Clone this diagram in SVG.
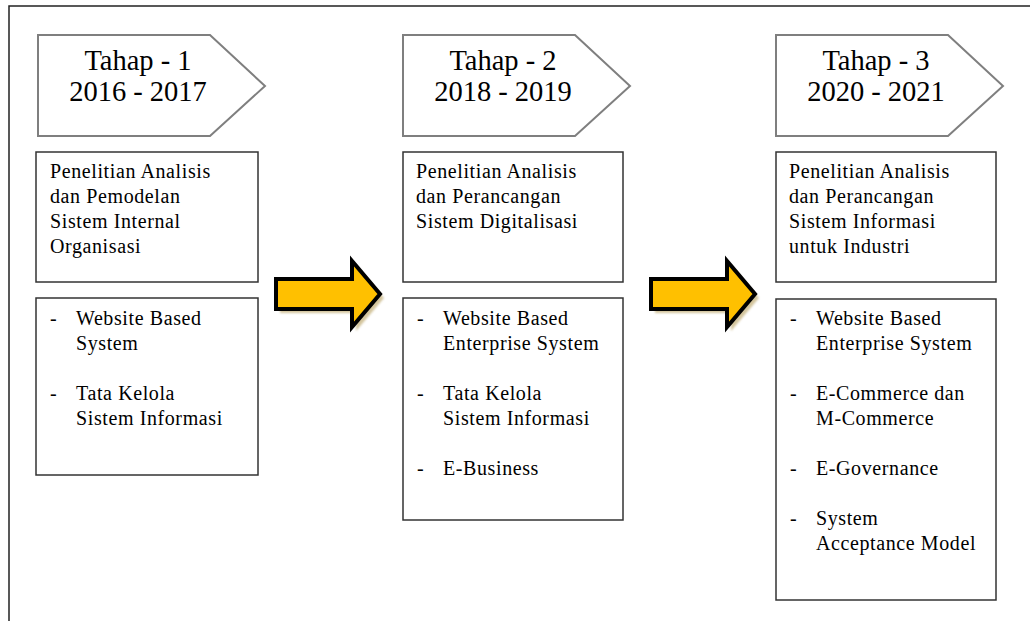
<svg xmlns="http://www.w3.org/2000/svg" width="1030" height="621" viewBox="0 0 1030 621">
  <style>
    .frame { fill: none; stroke: #222; stroke-width: 1.5; }
    .tag { fill: #fff; stroke: #7f7f7f; stroke-width: 2; }
    .tag-text { font-family: "Liberation Serif", "Times New Roman", serif; font-size: 28.5px; fill: #000; text-anchor: middle; }
    .box { fill: #fff; stroke: #333; stroke-width: 1.5; }
    .body { font-family: "Liberation Serif", "Times New Roman", serif; font-size: 20px; letter-spacing: 0.6px; fill: #000; }
    .arrow { fill: #ffc000; stroke: #000; stroke-width: 4; stroke-linejoin: miter; }
    .arrow-shadow { fill: #c8b684; opacity: 0.8; }
  </style>
  <defs>
    <path id="big-arrow" d="M276,279 H352 V261 L380,294 L352,327 V309 H276 Z"/>
    <filter id="soft" x="-10%" y="-10%" width="120%" height="120%">
      <feGaussianBlur stdDeviation="1"/>
    </filter>
  </defs>

  <rect width="1030" height="621" fill="#fff"/>

  <!-- page frame -->
  <path class="frame" d="M9,621 V6 H1030"/>

  <!-- stage 1 -->
  <g id="stage1">
    <path class="tag" d="M38,35 H210 L265,86 L210,136 H38 Z"/>
    <text class="tag-text" x="138" y="70">Tahap - 1</text>
    <text class="tag-text" x="138" y="101">2016 - 2017</text>
  </g>
  <g id="stage1-focus">
    <rect class="box" x="36" y="152" width="222" height="130"/>
    <text class="body" x="50" y="178">Penelitian Analisis</text>
    <text class="body" x="50" y="203">dan Pemodelan</text>
    <text class="body" x="50" y="228">Sistem Internal</text>
    <text class="body" x="50" y="253">Organisasi</text>
  </g>
  <g id="stage1-topics">
    <rect class="box" x="36" y="298" width="222" height="177"/>
    <text class="body" x="50" y="325">-</text>
    <text class="body" x="76" y="325">Website Based</text>
    <text class="body" x="76" y="350">System</text>
    <text class="body" x="50" y="400">-</text>
    <text class="body" x="76" y="400">Tata Kelola</text>
    <text class="body" x="76" y="425">Sistem Informasi</text>
  </g>

  <!-- stage 2 -->
  <g id="stage2">
    <path class="tag" d="M403,35 H575 L630,86 L575,136 H403 Z"/>
    <text class="tag-text" x="503" y="70">Tahap - 2</text>
    <text class="tag-text" x="503" y="101">2018 - 2019</text>
  </g>
  <g id="stage2-focus">
    <rect class="box" x="403" y="152" width="220" height="130"/>
    <text class="body" x="416" y="178">Penelitian Analisis</text>
    <text class="body" x="416" y="203">dan Perancangan</text>
    <text class="body" x="416" y="228">Sistem Digitalisasi</text>
  </g>
  <g id="stage2-topics">
    <rect class="box" x="403" y="298" width="220" height="222"/>
    <text class="body" x="417" y="325">-</text>
    <text class="body" x="443" y="325">Website Based</text>
    <text class="body" x="443" y="350">Enterprise System</text>
    <text class="body" x="417" y="400">-</text>
    <text class="body" x="443" y="400">Tata Kelola</text>
    <text class="body" x="443" y="425">Sistem Informasi</text>
    <text class="body" x="417" y="475">-</text>
    <text class="body" x="443" y="475">E-Business</text>
  </g>

  <!-- stage 3 -->
  <g id="stage3">
    <path class="tag" d="M776,35 H948 L1003,86 L948,136 H776 Z"/>
    <text class="tag-text" x="876" y="70">Tahap - 3</text>
    <text class="tag-text" x="876" y="101">2020 - 2021</text>
  </g>
  <g id="stage3-focus">
    <rect class="box" x="776" y="152" width="220" height="130"/>
    <text class="body" x="789" y="178">Penelitian Analisis</text>
    <text class="body" x="789" y="203">dan Perancangan</text>
    <text class="body" x="789" y="228">Sistem Informasi</text>
    <text class="body" x="789" y="253">untuk Industri</text>
  </g>
  <g id="stage3-topics">
    <rect class="box" x="776" y="299" width="220" height="301"/>
    <text class="body" x="790" y="325">-</text>
    <text class="body" x="816" y="325">Website Based</text>
    <text class="body" x="816" y="350">Enterprise System</text>
    <text class="body" x="790" y="400">-</text>
    <text class="body" x="816" y="400">E-Commerce dan</text>
    <text class="body" x="816" y="425">M-Commerce</text>
    <text class="body" x="790" y="475">-</text>
    <text class="body" x="816" y="475">E-Governance</text>
    <text class="body" x="790" y="525">-</text>
    <text class="body" x="816" y="525">System</text>
    <text class="body" x="816" y="550">Acceptance Model</text>
  </g>

  <!-- connectors: block arrows between stages -->
  <g id="connectors">
    <use href="#big-arrow" class="arrow-shadow" transform="translate(4,4)" filter="url(#soft)"/>
    <use href="#big-arrow" class="arrow"/>
    <use href="#big-arrow" class="arrow-shadow" transform="translate(379,4)" filter="url(#soft)"/>
    <use href="#big-arrow" class="arrow" transform="translate(375,0)"/>
  </g>
</svg>
